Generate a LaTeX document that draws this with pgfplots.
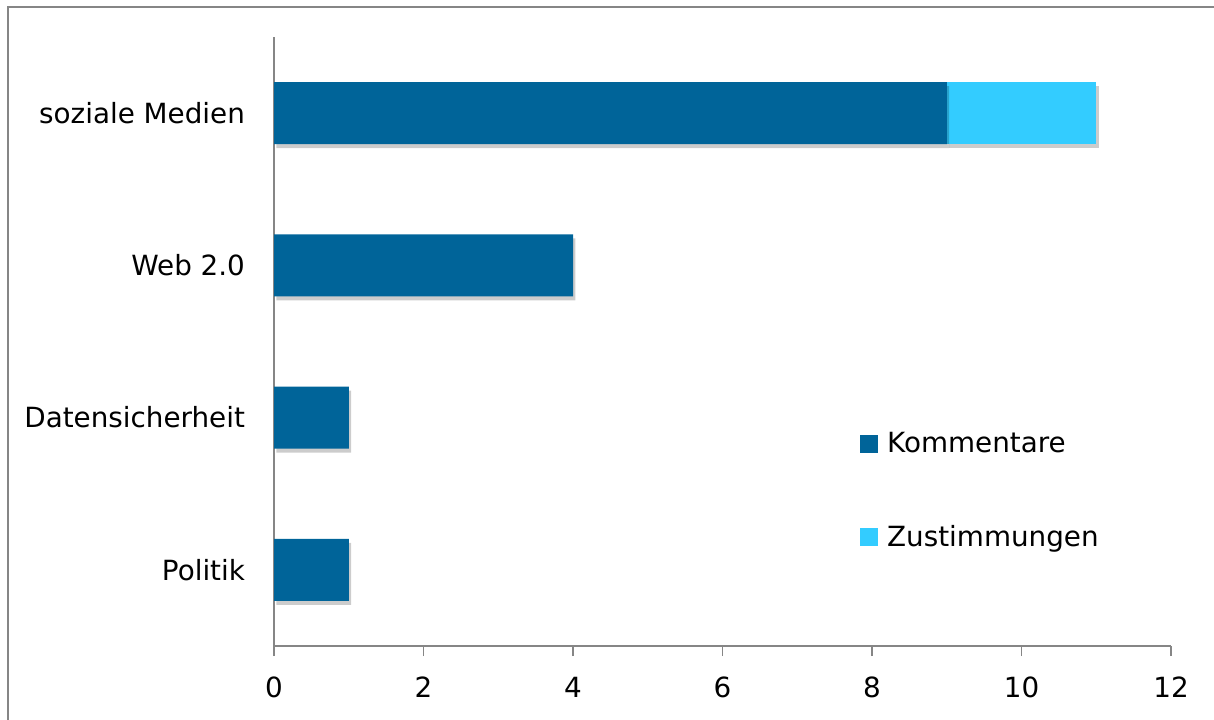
\documentclass[border=0pt]{standalone}
\usepackage{fontspec}
\setmainfont{DejaVu Sans}
\usepackage{pgfplots}
\pgfplotsset{compat=1.18}
\usetikzlibrary{shadows}
\definecolor{cDark}{RGB}{0,100,153}
\definecolor{cLight}{RGB}{51,204,255}
\definecolor{cAxis}{RGB}{134,134,134}
\begin{document}
\begin{tikzpicture}[font=\fontsize{13.9}{16}\selectfont]
\useasboundingbox (0,0) rectangle (607pt,359.5pt);
\draw[cAxis, line width=0.9pt] (4pt,-20pt) -- (4pt,356pt) -- (640pt,356pt);
\begin{axis}[
  at={(137pt,36.5pt)}, anchor=south west,
  scale only axis, width=448.5pt, height=304.5pt,
  xbar stacked, bar width=0.407,
  xmin=0, xmax=12, ymin=-0.5, ymax=3.5,
  xtick={0,2,4,6,8,10,12},
  ytick={0,1,2,3},
  yticklabels={Politik,Datensicherheit,Web 2.0,soziale Medien},
  axis x line*=bottom, axis y line*=left,
  axis line style={cAxis, line width=0.9pt, -},
  x tick style={cAxis, line width=0.9pt},
  y tick style={draw=none},
  tick align=outside, major tick length=5pt,
  xticklabel style={yshift=-7pt},
  yticklabel style={xshift=-6pt},
  /pgf/number format/assume math mode=true,
  legend style={at={(0.653,0.351)}, anchor=north west, draw=none, fill=none,
    row sep=34.5pt, inner sep=0pt, font=\fontsize{13.9}{16}\selectfont,
    nodes={inner xsep=4.5pt, inner ysep=0pt}},
  legend cell align=left,
]
\addplot[fill=cDark, draw=none, drop shadow={shadow xshift=1.2pt, shadow yshift=-2pt, opacity=0.2, fill=black},
  legend image code/.code={\pgfsetfillcolor{cDark}\pgfpathrectangle{\pgfpoint{0pt}{-4.5pt}}{\pgfpoint{9pt}{9pt}}\pgfusepath{fill}}]
  coordinates {(1,0) (1,1) (4,2) (9,3)};
\addlegendentry{Kommentare}
\addplot[fill=cLight, draw=none, drop shadow={shadow xshift=1.2pt, shadow yshift=-2pt, opacity=0.2, fill=black},
  legend image code/.code={\pgfsetfillcolor{cLight}\pgfpathrectangle{\pgfpoint{0pt}{-4.5pt}}{\pgfpoint{9pt}{9pt}}\pgfusepath{fill}}]
  coordinates {(0,0) (0,1) (0,2) (2,3)};
\addlegendentry{Zustimmungen}
\end{axis}
\end{tikzpicture}
\end{document}
